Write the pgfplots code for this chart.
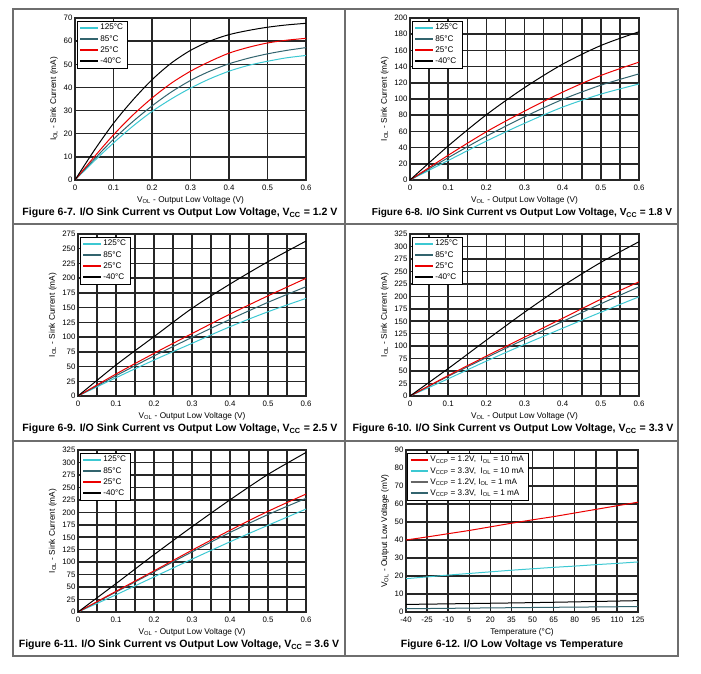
\documentclass[border=0pt]{standalone}
\usepackage{pgfplots}
\pgfplotsset{compat=1.18}
\usepackage{fontspec}
\setmainfont{Liberation Sans}
\definecolor{cA}{RGB}{60,200,210}
\definecolor{cB}{RGB}{50,100,110}
\definecolor{cC}{RGB}{235,0,0}
\definecolor{cD}{RGB}{0,0,0}
\definecolor{frame}{RGB}{110,110,110}
\pgfplotsset{
  base/.style={scale only axis, height=162bp, ymin=0,
    grid=both,
    major grid style={black!85, line width=1.5bp},
    minor grid style={black!85, line width=1.5bp},
    axis line style={black!85, line width=1.5bp},
    major tick length=0pt, minor tick length=0pt,
    tick style={draw=none},
    typeset ticklabels with strut,
    ticklabel style={font=\fontsize{7.9}{9}\selectfont},
    label style={font=\fontsize{8.3}{9}\selectfont},
    /pgf/number format/assume math mode=true,
    yticklabel style={xshift=1bp, yshift=-1bp},
    xticklabel style={yshift=-0.5bp},
    xlabel style={yshift=3.5bp},
    ylabel style={yshift=-1bp},
    legend cell align=left,
    legend style={at={(0.008,0.983)}, anchor=north west,
      font=\fontsize{8.2}{9}\selectfont,
      inner xsep=2.5pt, inner ysep=1.2pt, row sep=0pt, fill=white},
    legend image code/.code={\draw[line width=1.8bp, #1] plot coordinates {(0bp,0bp) (17bp,0bp)};},
    every axis plot/.append style={line width=1bp},
  },
  vol/.style={base, xmin=0, xmax=0.6,
    xtick={0,0.1,0.2,0.3,0.4,0.5,0.6},
    xticklabels={0,0.1,0.2,0.3,0.4,0.5,0.6},
    xlabel={V\textsubscript{OL} - Output Low Voltage (V)},
    ylabel={I\textsubscript{OL} - Sink Current (mA)}},
  fine/.style={minor xtick={0.05,0.15,0.25,0.35,0.45,0.55}},
}
\begin{document}
\begin{tikzpicture}[x=1bp,y=1bp]
\path[use as bounding box] (0,0) rectangle (701,674);
% frames
\draw[frame, line width=1.6bp] (13,665) rectangle (678,18);
\draw[frame, line width=1.6bp] (345,665) -- (345,18);
\draw[frame, line width=1.6bp] (13,450) -- (678,450);
\draw[frame, line width=1.6bp] (13,233) -- (678,233);

% Plot 1
\begin{axis}[vol, at={(75bp,656bp)}, anchor=north west, width=231bp,
  ymax=70, ytick={0,10,...,70}]
\addplot[color=cA, smooth] coordinates {(0,0)(0.05,8.2)(0.1,16)(0.15,23.2)(0.2,29.6)(0.25,35)(0.3,39.7)(0.35,43.7)(0.4,47)(0.45,49.5)(0.5,51.3)(0.55,52.8)(0.6,53.8)};
\addplot[color=cB, smooth] coordinates {(0,0)(0.05,9)(0.1,17.6)(0.15,25.2)(0.2,32)(0.25,38)(0.3,43)(0.35,47)(0.4,50.2)(0.45,52.6)(0.5,54.5)(0.55,56)(0.6,57.2)};
\addplot[color=cC, smooth] coordinates {(0,0)(0.05,10)(0.1,19.5)(0.15,28)(0.2,35.4)(0.25,41.8)(0.3,47)(0.35,51.2)(0.4,54.8)(0.45,57.3)(0.5,59.2)(0.55,60.4)(0.6,61.2)};
\addplot[color=cD, smooth] coordinates {(0,0)(0.05,12.8)(0.1,24.5)(0.15,34.5)(0.2,43.3)(0.25,50.5)(0.3,56)(0.35,60)(0.4,62.8)(0.45,64.6)(0.5,66)(0.55,67)(0.6,67.7)};
\legend{125°C,85°C,25°C,-40°C}
\end{axis}

% Plot 2
\begin{axis}[vol, fine, at={(410bp,656bp)}, anchor=north west, width=229bp,
  ymax=200, ytick={0,20,...,200}]
\addplot[color=cA, smooth] coordinates {(0,0)(0.1,24)(0.2,48)(0.3,70)(0.4,90)(0.5,106)(0.6,118.5)};
\addplot[color=cB, smooth] coordinates {(0,0)(0.1,27.5)(0.2,54)(0.3,78)(0.4,99.5)(0.5,117)(0.6,131)};
\addplot[color=cC, smooth] coordinates {(0,0)(0.1,30.5)(0.2,59.5)(0.3,85)(0.4,108.5)(0.5,129)(0.6,145.5)};
\addplot[color=cD, smooth] coordinates {(0,0)(0.1,42)(0.2,80.5)(0.3,114)(0.4,143)(0.5,166)(0.6,183)};
\legend{125°C,85°C,25°C,-40°C}
\end{axis}

% Plot 3
\begin{axis}[vol, fine, at={(78bp,440bp)}, anchor=north west, width=228bp,
  ymax=275, ytick={0,25,...,275}]
\addplot[color=cA, smooth] coordinates {(0,0)(0.1,31)(0.2,61)(0.3,89.4)(0.4,117.6)(0.5,143)(0.6,165.7)};
\addplot[color=cB, smooth] coordinates {(0,0)(0.1,34.5)(0.2,68)(0.3,99.5)(0.4,130)(0.5,159)(0.6,185.5)};
\addplot[color=cC, smooth] coordinates {(0,0)(0.1,37.3)(0.2,72.4)(0.3,106)(0.4,139)(0.5,170)(0.6,199.7)};
\addplot[color=cD, smooth] coordinates {(0,0)(0.1,52.6)(0.2,100.7)(0.3,148.8)(0.4,190)(0.5,228)(0.6,263)};
\legend{125°C,85°C,25°C,-40°C}
\end{axis}

% Plot 4
\begin{axis}[vol, fine, at={(410bp,440bp)}, anchor=north west, width=229bp,
  ymax=325, ytick={0,25,...,325}]
\addplot[color=cA, smooth] coordinates {(0,0)(0.1,34.5)(0.2,70)(0.3,103.6)(0.4,136)(0.5,168)(0.6,199)};
\addplot[color=cB, smooth] coordinates {(0,0)(0.1,39.5)(0.2,77)(0.3,113.6)(0.4,149.5)(0.5,185)(0.6,219)};
\addplot[color=cC, smooth] coordinates {(0,0)(0.1,41)(0.2,80)(0.3,118)(0.4,156)(0.5,194)(0.6,229)};
\addplot[color=cD, smooth] coordinates {(0,0)(0.1,55)(0.2,112)(0.3,168)(0.4,220.6)(0.5,268)(0.6,309.5)};
\legend{125°C,85°C,25°C,-40°C}
\end{axis}

% Plot 5
\begin{axis}[vol, fine, at={(78bp,224bp)}, anchor=north west, width=228bp,
  ymax=325, ytick={0,25,...,325}]
\addplot[color=cA, smooth] coordinates {(0,0)(0.1,34.5)(0.2,70.4)(0.3,106)(0.4,140.8)(0.5,174)(0.6,206.5)};
\addplot[color=cB, smooth] coordinates {(0,0)(0.1,40)(0.2,80.5)(0.3,120.6)(0.4,159.5)(0.5,195.5)(0.6,228)};
\addplot[color=cC, smooth] coordinates {(0,0)(0.1,41.5)(0.2,82.5)(0.3,124)(0.4,164)(0.5,202)(0.6,236.6)};
\addplot[color=cD, smooth] coordinates {(0,0)(0.1,57)(0.2,115)(0.3,171)(0.4,225)(0.5,276)(0.6,320)};
\legend{125°C,85°C,25°C,-40°C}
\end{axis}

% Plot 6
\begin{axis}[base, at={(406bp,224bp)}, anchor=north west, width=232bp,
  xmin=-40, xmax=125, xtick={-40,-25,...,125},
  xticklabels={-40,-25,-10,5,20,35,50,65,80,95,110,125},
  ymax=90, ytick={0,10,...,90},
  xlabel={Temperature (°C)},
  ylabel={V\textsubscript{OL} - Output Low Voltage (mV)},
  legend style={at={(0.004,0.983)}}]
\addplot[color=cC, smooth] coordinates {(-40,40)(-25,41.7)(-10,43.5)(5,45.3)(20,47.3)(35,49.3)(50,51.2)(65,53)(80,55)(95,57)(110,59)(125,61)};
\addplot[color=cA, smooth] coordinates {(-40,18.5)(-25,19.5)(-10,20.5)(5,21.4)(20,22.3)(35,23.2)(50,24)(65,24.8)(80,25.5)(95,26.3)(110,27)(125,27.8)};
\addplot[color=black, smooth, forget plot] coordinates {(-40,4.2)(50,5.2)(125,6.3)};
\addlegendimage{color=black!60}
\addplot[color=cB, smooth] coordinates {(-40,1.8)(50,2.5)(125,3)};
\legend{{V\textsubscript{CCP} = 1.2V,\ \ I\textsubscript{OL} = 10 mA},
        {V\textsubscript{CCP} = 3.3V,\ \ I\textsubscript{OL} = 10 mA},
        {V\textsubscript{CCP} = 1.2V, I\textsubscript{OL} = 1 mA},
        {V\textsubscript{CCP} = 3.3V,\ \ I\textsubscript{OL} = 1 mA}}
\end{axis}

% captions
\begin{scope}[every node/.style={font=\fontsize{10.6}{12}\selectfont\bfseries}]
\node at (180,461) {Figure 6-7. I/O Sink Current vs Output Low Voltage, V\textsubscript{CC} = 1.2 V};
\node[font=\fontsize{10.1}{12}\selectfont\bfseries] at (522,461) {Figure 6-8. I/O Sink Current vs Output Low Voltage, V\textsubscript{CC} = 1.8 V};
\node at (180,245) {Figure 6-9. I/O Sink Current vs Output Low Voltage, V\textsubscript{CC} = 2.5 V};
\node at (513,245) {Figure 6-10. I/O Sink Current vs Output Low Voltage, V\textsubscript{CC} = 3.3 V};
\node at (179,29) {Figure 6-11. I/O Sink Current vs Output Low Voltage, V\textsubscript{CC} = 3.6 V};
\node at (512,29) {Figure 6-12. I/O Low Voltage vs Temperature};
\end{scope}
\end{tikzpicture}
\end{document}
